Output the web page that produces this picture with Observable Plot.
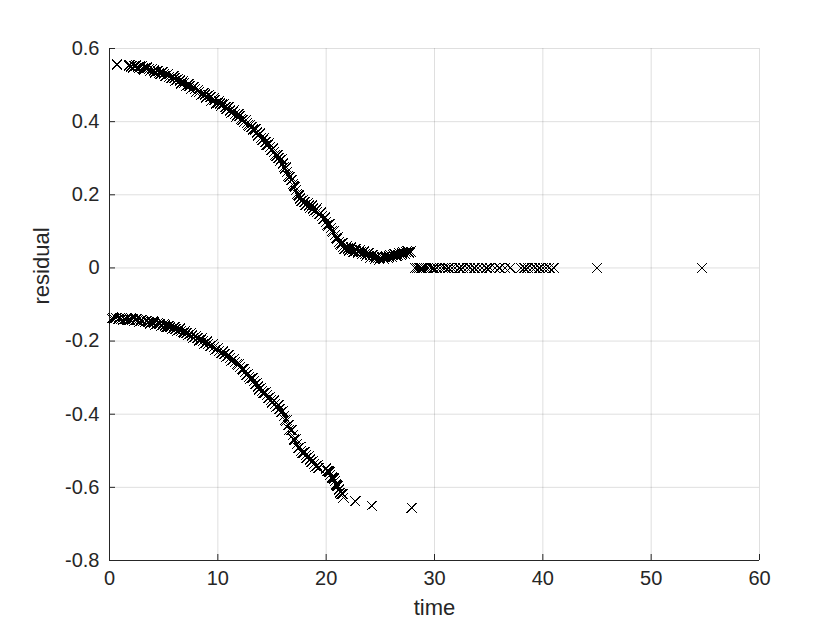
<!DOCTYPE html>
<html><head><meta charset="utf-8">
<script src="https://cdn.jsdelivr.net/npm/d3@7"></script>
<script src="https://cdn.jsdelivr.net/npm/@observablehq/plot@0.6"></script>
<style>body{margin:0;background:#fff}</style>
</head><body><div id="chart"></div>
<script>
// upper branch (time, residual)
const upperTime = [0.7,1.8,2.0,2.3,2.6,2.8,3.1,3.3,3.6,3.8,4.1,4.3,4.6,4.8,5.0,5.3,5.5,5.8,6.0,6.2,6.5,6.7,6.9,7.2,7.4,7.6,7.9,8.1,8.3,8.6,8.8,9.0,9.3,9.5,9.7,10.0,10.2,10.4,10.7,10.9,11.1,11.4,11.6,11.8,12.0,12.3,12.5,12.7,12.9,13.1,13.4,13.6,13.8,14.0,14.2,14.4,14.6,14.8,15.0,15.2,15.4,15.6,15.8,16.0,16.2,16.4,16.6,16.8,17.0,17.2,17.4,17.6,17.8,18.0,18.2,18.4,18.6,18.8,19.0,19.2,19.4,19.6,19.8,20.0,20.2,20.4,20.6,20.8,21.0,21.2,21.4,21.6,21.8,22.0,22.2,22.4,22.6,22.8,23.0,23.2,23.4,23.6,23.8,24.0,24.2,24.4,24.6,24.8,25.0,25.2,25.4,25.6,25.8,26.0,26.2,26.4,26.6,26.8,27.0,27.2,27.4,27.6,27.8];
const upperResidual = [0.556,0.553,0.551,0.552,0.549,0.550,0.546,0.547,0.543,0.541,0.540,0.536,0.534,0.533,0.529,0.528,0.523,0.521,0.519,0.514,0.512,0.507,0.506,0.500,0.498,0.492,0.490,0.484,0.482,0.476,0.474,0.469,0.467,0.460,0.459,0.452,0.450,0.447,0.440,0.438,0.430,0.428,0.422,0.418,0.415,0.405,0.402,0.396,0.388,0.385,0.376,0.370,0.365,0.356,0.351,0.344,0.336,0.330,0.322,0.318,0.306,0.300,0.296,0.285,0.272,0.262,0.248,0.240,0.225,0.212,0.200,0.190,0.184,0.180,0.174,0.170,0.166,0.163,0.158,0.154,0.148,0.142,0.134,0.126,0.116,0.108,0.098,0.090,0.080,0.072,0.064,0.058,0.055,0.053,0.050,0.049,0.046,0.047,0.044,0.043,0.041,0.038,0.037,0.034,0.032,0.030,0.028,0.027,0.027,0.028,0.029,0.030,0.031,0.032,0.034,0.035,0.036,0.038,0.039,0.040,0.042,0.043,0.045];
// more upper-branch samples (scattered around the same band)
const upperTimeB = [1.9,2.15,2.45,2.7,2.95,3.2,3.45,3.7,3.95,4.2,4.45,4.7,4.9,5.15,5.4,5.65,5.9,6.1,6.35,6.6,6.8,7.05,7.3,7.5,7.75,8.0,8.2,8.45,8.7,8.9,9.15,9.4,9.6,9.85,10.1,10.3,10.55,10.8,11.0,11.25,11.5,11.7,11.9,12.15,12.4,12.6,12.8,13.0,13.25,13.5,13.7,13.9,14.1,14.3,14.5,14.7,14.9,15.1,15.3,15.5,15.7,15.9,16.1,16.3,16.5,16.7,16.9,17.1,17.3,17.5,17.7,17.9,18.1,18.3,18.5,18.7,18.9,19.1,19.3,19.5,19.7,19.9,20.1,20.3,20.5,20.7,20.9,21.1,21.3,21.5,21.7,21.9,22.1,22.3,22.5,22.7,22.9,23.1,23.3,23.5,23.7,23.9,24.1,24.3,24.5,24.7,24.9,25.1,25.3,25.5,25.7,25.9,26.1,26.3,26.5,26.7,26.9,27.1,27.3,27.5,27.7];
const upperResidualB = [0.555,0.548,0.554,0.546,0.551,0.543,0.548,0.538,0.544,0.534,0.539,0.530,0.536,0.524,0.531,0.518,0.524,0.512,0.517,0.504,0.511,0.497,0.503,0.489,0.495,0.481,0.488,0.473,0.479,0.466,0.472,0.458,0.464,0.450,0.456,0.443,0.448,0.435,0.441,0.424,0.432,0.414,0.421,0.408,0.398,0.405,0.391,0.392,0.379,0.380,0.362,0.368,0.350,0.356,0.336,0.341,0.322,0.327,0.310,0.309,0.292,0.297,0.276,0.275,0.252,0.250,0.228,0.222,0.202,0.198,0.184,0.187,0.172,0.177,0.164,0.171,0.156,0.163,0.146,0.151,0.134,0.138,0.118,0.120,0.100,0.101,0.082,0.084,0.066,0.068,0.052,0.060,0.047,0.056,0.043,0.052,0.040,0.049,0.037,0.045,0.033,0.041,0.028,0.036,0.024,0.032,0.023,0.031,0.025,0.034,0.027,0.035,0.029,0.038,0.032,0.041,0.035,0.044,0.038,0.047,0.040];
// converged points at zero
const zeroTime = [28.2,28.4,28.6,28.8,29.0,29.2,29.4,29.7,29.9,30.2,30.5,30.8,31.0,31.3,31.6,31.9,32.3,32.6,33.0,33.3,33.7,34.0,34.4,34.8,35.1,35.6,36.0,36.5,37.0,38.0,38.3,38.6,39.0,39.3,39.7,40.0,40.3,40.6,41.0,45.0,54.7];
const zeroResidual = zeroTime.map(() => 0);
// lower branch (time, residual)
const lowerTime = [0.2,0.4,0.6,0.9,1.1,1.4,1.6,1.9,2.1,2.4,2.6,2.9,3.1,3.4,3.6,3.9,4.1,4.4,4.6,4.9,5.1,5.4,5.6,5.9,6.1,6.4,6.6,6.9,7.1,7.4,7.6,7.9,8.1,8.4,8.6,8.9,9.1,9.4,9.6,9.9,10.1,10.4,10.6,10.9,11.1,11.4,11.6,11.9,12.1,12.3,12.5,12.7,12.9,13.1,13.3,13.5,13.7,13.9,14.1,14.3,14.5,14.7,14.9,15.1,15.3,15.5,15.7,15.9,16.1,16.3,16.5,16.7,16.9,17.1,17.3,17.5,17.7,17.9,18.1,18.3,18.5,18.7,18.9,19.1,19.3,20.0,20.2,20.4,20.6,20.8,21.0,21.2,21.4,21.6,22.7,24.2,27.9];
const lowerResidual = [-0.138,-0.139,-0.137,-0.139,-0.138,-0.140,-0.139,-0.141,-0.140,-0.142,-0.143,-0.144,-0.145,-0.146,-0.148,-0.149,-0.150,-0.153,-0.154,-0.157,-0.158,-0.160,-0.162,-0.165,-0.167,-0.170,-0.172,-0.176,-0.178,-0.182,-0.185,-0.189,-0.192,-0.197,-0.200,-0.205,-0.208,-0.213,-0.217,-0.222,-0.227,-0.232,-0.236,-0.242,-0.247,-0.252,-0.257,-0.264,-0.270,-0.278,-0.285,-0.292,-0.297,-0.302,-0.310,-0.318,-0.324,-0.331,-0.336,-0.342,-0.348,-0.356,-0.362,-0.366,-0.372,-0.378,-0.385,-0.395,-0.405,-0.418,-0.430,-0.444,-0.458,-0.470,-0.482,-0.492,-0.500,-0.506,-0.512,-0.518,-0.524,-0.530,-0.536,-0.542,-0.547,-0.548,-0.556,-0.565,-0.574,-0.583,-0.595,-0.606,-0.617,-0.628,-0.638,-0.650,-0.656];
// more lower-branch samples
const lowerTimeB = [0.3,0.75,1.0,1.25,1.5,1.75,2.0,2.25,2.5,2.75,3.0,3.25,3.5,3.75,4.0,4.25,4.5,4.75,5.0,5.25,5.5,5.75,6.0,6.25,6.5,6.75,7.0,7.25,7.5,7.75,8.0,8.25,8.5,8.75,9.0,9.25,9.5,9.75,10.0,10.25,10.5,10.75,11.0,11.25,11.5,11.75,12.0,12.2,12.4,12.6,12.8,13.0,13.2,13.4,13.6,13.8,14.0,14.2,14.4,14.6,14.8,15.0,15.2,15.4,15.6,15.8,16.0,16.2,16.4,16.6,16.8,17.0,17.2,17.4,17.6,17.8,18.0,18.2,18.4,18.6,18.8,19.0,19.2,20.1,20.3,20.5,20.7,20.9,21.1,21.3,21.5];
const lowerResidualB = [-0.136,-0.141,-0.136,-0.142,-0.137,-0.143,-0.138,-0.145,-0.140,-0.147,-0.142,-0.149,-0.144,-0.152,-0.147,-0.155,-0.150,-0.159,-0.154,-0.162,-0.158,-0.167,-0.162,-0.172,-0.166,-0.177,-0.172,-0.184,-0.178,-0.191,-0.186,-0.199,-0.193,-0.207,-0.201,-0.215,-0.209,-0.224,-0.219,-0.234,-0.228,-0.244,-0.238,-0.254,-0.249,-0.264,-0.262,-0.278,-0.276,-0.293,-0.289,-0.303,-0.301,-0.318,-0.315,-0.332,-0.328,-0.343,-0.340,-0.356,-0.353,-0.368,-0.362,-0.380,-0.375,-0.395,-0.392,-0.416,-0.416,-0.442,-0.443,-0.468,-0.468,-0.493,-0.490,-0.507,-0.503,-0.519,-0.515,-0.531,-0.527,-0.543,-0.540,-0.555,-0.558,-0.573,-0.576,-0.592,-0.596,-0.614,-0.618];

const xTicks = [0,10,20,30,40,50,60];
const yTicks = [-0.8,-0.6,-0.4,-0.2,0,0.2,0.4,0.6];
const xLabel = "time";
const yLabel = "residual";

const W = 840, H = 630, ML = 109, MR = 81, MT = 48, MB = 70;
const FW = W - ML - MR, FH = H - MT - MB;
const ink = "#262626";

const pts = [];
const addSeries = (ts, rs) => ts.forEach((t, i) => pts.push({t, r: rs[i]}));
addSeries(upperTime, upperResidual);
addSeries(upperTimeB, upperResidualB);
addSeries(zeroTime, zeroResidual);
addSeries(lowerTime, lowerResidual);
addSeries(lowerTimeB, lowerResidualB);

const chart = Plot.plot({
  width: W, height: H,
  marginLeft: ML, marginRight: MR, marginTop: MT, marginBottom: MB,
  style: {fontFamily: "'Liberation Sans', Arial, sans-serif", background: "#fff", color: ink},
  x: {domain: [0, 60], ticks: xTicks},
  y: {domain: [-0.8, 0.6], ticks: yTicks},
  marks: [
    Plot.gridX(xTicks, {stroke: ink, strokeOpacity: 0.15}),
    Plot.gridY(yTicks, {stroke: ink, strokeOpacity: 0.15}),
    Plot.tickX(xTicks, {stroke: ink, insetTop: FH - 6}),
    Plot.tickY(yTicks, {stroke: ink, insetRight: FW - 6}),
    Plot.ruleX([0], {stroke: ink}),
    Plot.ruleY([-0.8], {stroke: ink}),
    Plot.axisX(xTicks, {tickSize: 0, tickPadding: 10, fontSize: 20, label: null, tickFormat: d => String(d), fill: ink}),
    Plot.axisY(yTicks, {tickSize: 0, tickPadding: 10, fontSize: 20, label: null, tickFormat: d => String(d), fill: ink}),
    Plot.text([xLabel], {frameAnchor: "bottom", dy: 54, fontSize: 22, fill: ink, text: d => d}),
    Plot.text([yLabel], {frameAnchor: "left", dx: -68, rotate: -90, fontSize: 22, fill: ink, text: d => d}),
    Plot.dot(pts, {x: "t", y: "r", symbol: "times", r: 4.6, stroke: "#000", strokeWidth: 1, shapeRendering: "crispEdges"})
  ]
});
document.getElementById("chart").appendChild(chart);
</script>
</body></html>
